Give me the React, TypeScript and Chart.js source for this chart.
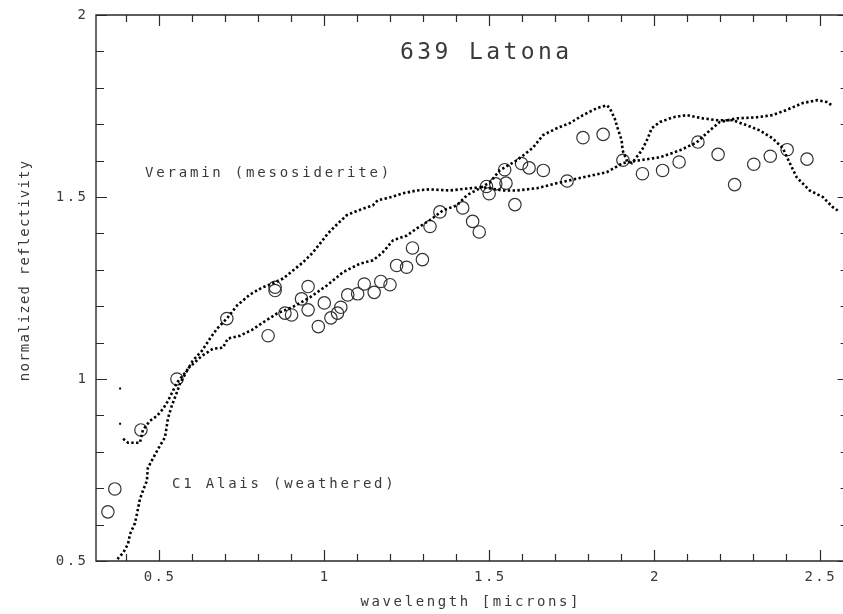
import React, { useEffect, useRef } from 'react';
import { Chart, registerables } from 'chart.js';

Chart.register(...registerables);

// ---- axis ranges & ticks ----
const X_MIN = 0.31;
const X_MAX = 2.588;
const Y_MIN = 0.5;
const Y_MAX = 2;
const xMajorTicks = [0.5, 1, 1.5, 2, 2.5];
const xTickLabels = ['0.5', '1', '1.5', '2', '2.5'];
const xMinorTicks = [0.4, 0.6, 0.7, 0.8, 0.9, 1.1, 1.2, 1.3, 1.4, 1.6, 1.7, 1.8, 1.9, 2.1, 2.2, 2.3, 2.4];
const yMajorTicks = [0.5, 1, 1.5, 2];
const yTickLabels = ['0.5', '1', '1.5', '2'];
const yMinorTicks = [0.6, 0.7, 0.8, 0.9, 1.1, 1.2, 1.3, 1.4, 1.6, 1.7, 1.8, 1.9];

// ---- texts ----
const titleText = '639 Latona';
const xTitle = 'wavelength [microns]';
const yTitle = 'normalized reflectivity';
const veraminLabel = 'Veramin (mesosiderite)';
const alaisLabel = 'C1 Alais (weathered)';

// ---- observed asteroid reflectance (circles) ----
const obsX = [0.346, 0.367, 0.446, 0.555, 0.706, 0.831, 0.852, 0.852, 0.882, 0.902, 0.932, 0.952, 0.952, 0.983, 1.001, 1.021, 1.041, 1.051, 1.072, 1.102, 1.122, 1.152, 1.172, 1.2, 1.22, 1.25, 1.268, 1.298, 1.321, 1.351, 1.42, 1.45, 1.47, 1.492, 1.5, 1.52, 1.547, 1.551, 1.578, 1.598, 1.621, 1.664, 1.736, 1.784, 1.845, 1.905, 1.964, 2.025, 2.075, 2.132, 2.193, 2.243, 2.301, 2.351, 2.402, 2.462];
const obsY = [0.635, 0.698, 0.86, 1.0, 1.166, 1.119, 1.252, 1.243, 1.181, 1.176, 1.22, 1.254, 1.19, 1.144, 1.209, 1.168, 1.181, 1.197, 1.231, 1.234, 1.261, 1.238, 1.268, 1.259, 1.312, 1.307, 1.36, 1.328, 1.419, 1.459, 1.47, 1.433, 1.404, 1.529, 1.509, 1.536, 1.575, 1.538, 1.479, 1.592, 1.58, 1.573, 1.544, 1.663, 1.672, 1.601, 1.564, 1.573, 1.596, 1.651, 1.617, 1.534, 1.59, 1.612, 1.63, 1.604];

// ---- Veramin (mesosiderite) spectrum ----
const veraminX = [0.383, 0.383, 0.392, 0.407, 0.443, 0.452, 0.473, 0.495, 0.513, 0.528, 0.555, 0.585, 0.603, 0.631, 0.655, 0.676, 0.706, 0.737, 0.776, 0.812, 0.843, 0.876, 0.906, 0.936, 0.964, 0.988, 1.012, 1.042, 1.069, 1.103, 1.148, 1.163, 1.2, 1.239, 1.281, 1.32, 1.381, 1.442, 1.481, 1.541, 1.584, 1.644, 1.714, 1.784, 1.856, 1.904, 1.956, 2.017, 2.077, 2.128, 2.168, 2.198, 2.249, 2.31, 2.358, 2.4, 2.449, 2.492, 2.522, 2.537];
const veraminY = [0.974, 0.877, 0.836, 0.825, 0.825, 0.86, 0.885, 0.899, 0.918, 0.94, 0.99, 1.023, 1.05, 1.078, 1.111, 1.138, 1.166, 1.202, 1.232, 1.251, 1.262, 1.276, 1.298, 1.32, 1.345, 1.372, 1.4, 1.427, 1.45, 1.463, 1.477, 1.491, 1.499, 1.51, 1.518, 1.521, 1.518, 1.524, 1.527, 1.518, 1.518, 1.524, 1.54, 1.554, 1.568, 1.593, 1.601, 1.609, 1.628, 1.65, 1.683, 1.706, 1.716, 1.719, 1.725, 1.739, 1.758, 1.766, 1.761, 1.752];

// ---- CI Alais (weathered) spectrum ----
const alaisX = [0.375, 0.383, 0.392, 0.407, 0.413, 0.428, 0.437, 0.443, 0.452, 0.464, 0.467, 0.482, 0.498, 0.519, 0.528, 0.54, 0.555, 0.564, 0.59, 0.631, 0.664, 0.694, 0.709, 0.746, 0.782, 0.815, 0.858, 0.906, 0.957, 1.009, 1.057, 1.109, 1.148, 1.178, 1.209, 1.251, 1.281, 1.32, 1.36, 1.402, 1.433, 1.472, 1.502, 1.532, 1.584, 1.632, 1.663, 1.705, 1.744, 1.784, 1.826, 1.856, 1.865, 1.88, 1.889, 1.901, 1.904, 1.916, 1.932, 1.962, 1.98, 1.992, 2.017, 2.056, 2.098, 2.147, 2.189, 2.237, 2.28, 2.319, 2.358, 2.389, 2.41, 2.431, 2.47, 2.51, 2.54, 2.555];
const alaisY = [0.505, 0.514, 0.522, 0.547, 0.574, 0.604, 0.643, 0.67, 0.693, 0.72, 0.756, 0.781, 0.808, 0.84, 0.893, 0.928, 0.964, 0.987, 1.03, 1.064, 1.083, 1.086, 1.111, 1.119, 1.135, 1.155, 1.18, 1.198, 1.224, 1.257, 1.293, 1.317, 1.326, 1.348, 1.381, 1.394, 1.414, 1.436, 1.463, 1.477, 1.505, 1.524, 1.54, 1.573, 1.601, 1.635, 1.67, 1.689, 1.703, 1.725, 1.744, 1.752, 1.744, 1.716, 1.689, 1.656, 1.628, 1.601, 1.593, 1.628, 1.661, 1.689, 1.706, 1.719, 1.725, 1.716, 1.711, 1.711, 1.697, 1.683, 1.661, 1.634, 1.593, 1.554, 1.518, 1.5, 1.472, 1.463];

const toPoints = (xs: number[], ys: number[]) => xs.map((x, i) => ({ x, y: ys[i] }));

const TEXT_COLOR = '#3a3a3a';
const MONO = '"DejaVu Sans Mono", "Liberation Mono", monospace';

function drawSpaced(
  ctx: CanvasRenderingContext2D,
  text: string,
  x: number,
  y: number,
  align: 'left' | 'center' | 'right',
  size: number,
  spacing: number
) {
  ctx.save();
  ctx.font = `${size}px ${MONO}`;
  (ctx as any).letterSpacing = `${spacing}px`;
  ctx.textAlign = 'left';
  ctx.textBaseline = 'middle';
  ctx.fillStyle = TEXT_COLOR;
  const w = ctx.measureText(text).width - spacing;
  let sx = x;
  if (align === 'center') sx = x - w / 2;
  else if (align === 'right') sx = x - w;
  ctx.fillText(text, sx, y);
  ctx.restore();
}

const framePlugin = {
  id: 'framePlugin',
  beforeDatasetsDraw(chart: any) {
    const { ctx, chartArea } = chart;
    const xs = chart.scales.x;
    const ys = chart.scales.y;
    const { left, right, top, bottom } = chartArea;
    ctx.save();
    ctx.strokeStyle = '#2a2a2a';
    ctx.lineWidth = 1.4;
    ctx.beginPath();
    ctx.moveTo(left, top);
    ctx.lineTo(right, top);
    ctx.lineTo(right, bottom);
    ctx.lineTo(left, bottom);
    ctx.closePath();
    ctx.stroke();

    ctx.lineWidth = 1.2;
    ctx.beginPath();
    const xTick = (v: number, len: number) => {
      const px = Math.round(xs.getPixelForValue(v)) + 0.5;
      ctx.moveTo(px, bottom);
      ctx.lineTo(px, bottom - len);
      ctx.moveTo(px, top);
      ctx.lineTo(px, top + len);
    };
    const yTick = (v: number, len: number) => {
      const py = Math.round(ys.getPixelForValue(v)) + 0.5;
      ctx.moveTo(left, py);
      ctx.lineTo(left + len, py);
      ctx.moveTo(right, py);
      ctx.lineTo(right - len, py);
    };
    xMajorTicks.forEach((v) => xTick(v, 11));
    xMinorTicks.forEach((v) => xTick(v, 7));
    yMajorTicks.forEach((v) => yTick(v, 11));
    yMinorTicks.forEach((v) => yTick(v, 8));
    ctx.stroke();
    ctx.restore();

    // tick labels
    xMajorTicks.forEach((v, i) => {
      drawSpaced(ctx, xTickLabels[i], xs.getPixelForValue(v), bottom + 16, 'center', 14, 2.5);
    });
    yMajorTicks.forEach((v, i) => {
      drawSpaced(ctx, yTickLabels[i], left - 10, ys.getPixelForValue(v), 'right', 14, 2.5);
    });

    // axis titles
    drawSpaced(ctx, xTitle, (left + 843) / 2, bottom + 41, 'center', 14, 2.6);
    ctx.save();
    ctx.translate(25, 271);
    ctx.rotate(-Math.PI / 2);
    drawSpaced(ctx, yTitle, 0, 0, 'center', 14, 1.2);
    ctx.restore();

    // title & annotations
    drawSpaced(ctx, titleText, 400, 53, 'left', 23, 3.4);
    drawSpaced(ctx, veraminLabel, 145, 173, 'left', 14, 2.8);
    drawSpaced(ctx, alaisLabel, 172, 484, 'left', 14, 2.8);
  },
};

export default function App() {
  const ref = useRef<HTMLCanvasElement>(null);

  useEffect(() => {
    if (!ref.current) return;
    const chart = new Chart(ref.current, {
      type: 'scatter',
      data: {
        datasets: [
          {
            label: 'Veramin (mesosiderite)',
            data: toPoints(veraminX, veraminY),
            showLine: true,
            borderColor: '#000',
            borderWidth: 2.6,
            borderDash: [2.4, 2.4],
            borderCapStyle: 'butt',
            pointStyle: 'rect',
            pointRadius: veraminX.map((_, i) => (i < 2 ? 1.4 : 0)),
            pointBackgroundColor: '#000',
            pointBorderWidth: 0,
            segment: {
              borderColor: (c: any) => (c.p0DataIndex < 2 ? 'rgba(0,0,0,0)' : undefined),
            },
          } as any,
          {
            label: 'C1 Alais (weathered)',
            data: toPoints(alaisX, alaisY),
            showLine: true,
            borderColor: '#000',
            borderWidth: 2.6,
            borderDash: [2.4, 2.4],
            borderCapStyle: 'butt',
            pointRadius: 0,
          } as any,
          {
            label: '639 Latona',
            data: toPoints(obsX, obsY),
            showLine: false,
            pointStyle: 'circle',
            pointRadius: 6.2,
            pointBorderWidth: 1.2,
            pointBorderColor: '#333',
            pointBackgroundColor: 'rgba(0,0,0,0)',
          } as any,
        ],
      },
      options: {
        animation: false,
        responsive: false,
        devicePixelRatio: 1,
        layout: { padding: { left: 96, top: 15, right: 7, bottom: 53 } },
        scales: {
          x: { type: 'linear', min: X_MIN, max: X_MAX, display: false },
          y: { type: 'linear', min: Y_MIN, max: Y_MAX, display: false },
        },
        plugins: {
          legend: { display: false },
          tooltip: { enabled: false },
          title: { display: false },
        },
        events: [],
      },
      plugins: [framePlugin],
    });
    return () => chart.destroy();
  }, []);

  return (
    <div
      style={{
        position: 'absolute',
        left: 0,
        top: 0,
        width: 843,
        height: 614,
        overflow: 'hidden',
        background: '#fff',
      }}
    >
      <canvas ref={ref} width={856} height={614} style={{ display: 'block', width: 856, height: 614 }} />
    </div>
  );
}
